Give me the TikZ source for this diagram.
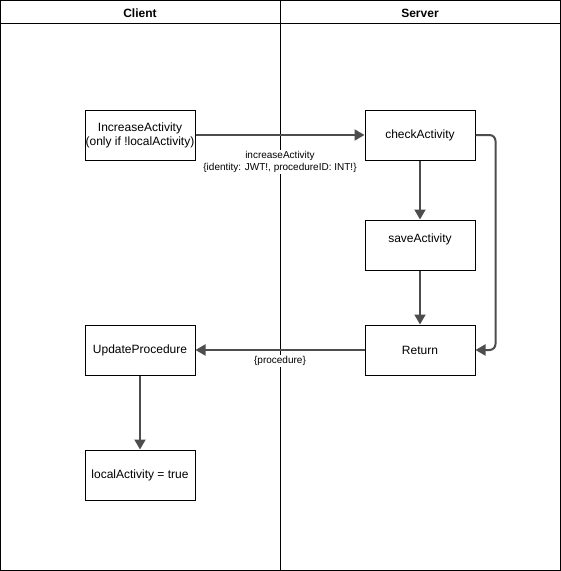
\documentclass[tikz,border=0pt]{standalone}
\usepackage{fontspec}
\setmainfont{Liberation Sans}
\usetikzlibrary{arrows.meta}
\begin{document}
\begin{tikzpicture}[x=1pt,y=-1pt,
  box/.style={draw=black,line width=1pt,minimum width=110pt,minimum height=50pt,inner sep=0pt,align=center,font=\fontsize{12}{14}\selectfont},
  flow/.style={draw={rgb,255:red,77;green,77;blue,77},line width=2pt,-{Triangle[length=10pt,width=11pt]},rounded corners=6pt},
  lbl/.style={font=\fontsize{10}{12}\selectfont,align=center,fill=white,inner sep=1pt},
  hdr/.style={font=\bfseries\fontsize{12}{14}\selectfont}]
\useasboundingbox (0,0) rectangle (561,571);
\fill[white] (0,0) rectangle (561,571);
\draw[line width=1pt] (0.5,0.5) rectangle (560.5,570.5);
\draw[line width=1pt] (0.5,23.5) -- (560.5,23.5);
\draw[line width=1pt] (280.5,0.5) -- (280.5,570.5);
\node[hdr] (hc) at (140,13) {Client};
\node[hdr] (hs) at (420,13) {Server};
\node[box] (inc) at (140,135) {IncreaseActivity\\(only if !localActivity)};
\node[box] (chk) at (420,135) {checkActivity};
\node[box] (sav) at (420,245) {saveActivity\\~};
\node[box] (ret) at (420,350) {Return};
\node[box] (upd) at (140,350) {UpdateProcedure};
\node[box] (loc) at (140,475) {localActivity = true};
\draw[flow] (inc) -- (chk);
\node[lbl] (l1) at (280,162) {increaseActivity\\\{identity: JWT!, procedureID: INT!\}};
\draw[flow] (chk) -- (sav);
\draw[flow] (sav) -- (ret);
\draw[flow] (chk.east) -- ++(20,0) |- (ret.east);
\draw[flow] (ret) -- (upd);
\node[lbl] (l2) at (280,361) {\{procedure\}};
\draw[flow] (upd) -- (loc);
\end{tikzpicture}
\end{document}
